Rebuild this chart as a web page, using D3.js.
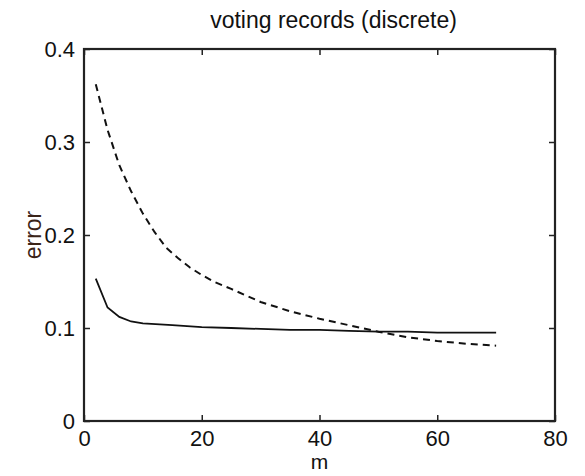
<!DOCTYPE html>
<html>
<head>
<meta charset="utf-8">
<script src="https://cdn.jsdelivr.net/npm/d3@7"></script>
<style>
  body { margin: 0; background: #fff; }
  text { font-family: "Liberation Sans", Arial, Helvetica, sans-serif; fill: #111; }
</style>
</head>
<body>
<svg id="chart" width="585" height="476"></svg>
<script>
// m values and errors
const mSolid   = [2, 4, 6, 8, 10, 15, 20, 25, 30, 35, 40, 45, 50, 55, 60, 65, 70];
const errSolid = [0.153, 0.122, 0.112, 0.107, 0.105, 0.103, 0.101, 0.100, 0.099, 0.098, 0.098, 0.097, 0.096, 0.096, 0.095, 0.095, 0.095];

const mDashed   = [2, 4, 6, 8, 10, 12, 14, 16, 18, 20, 22, 25, 30, 35, 40, 45, 50, 55, 60, 65, 70];
const errDashed = [0.362, 0.313, 0.275, 0.247, 0.223, 0.203, 0.186, 0.175, 0.165, 0.157, 0.150, 0.142, 0.128, 0.118, 0.110, 0.103, 0.096, 0.090, 0.086, 0.083, 0.081];

const xTicks = [0, 20, 40, 60, 80];
const yTicks = [0, 0.1, 0.2, 0.3, 0.4];

const svg = d3.select("#chart");
const L = 84, R = 555, T = 49, B = 421;

const X = d3.scaleLinear().domain([0, 80]).range([L, R]);
const Y = d3.scaleLinear().domain([0, 0.4]).range([B, T]);
const line = d3.line().x(d => X(d[0])).y(d => Y(d[1]));

const solid = d3.zip(mSolid, errSolid);
const dashed = d3.zip(mDashed, errDashed);

// data
svg.append("path").datum(dashed)
	.attr("d", line)
	.attr("fill", "none")
	.attr("stroke", "#111")
	.attr("stroke-width", 2)
	.attr("stroke-dasharray", "7,5");

svg.append("path").datum(solid)
	.attr("d", line)
	.attr("fill", "none")
	.attr("stroke", "#111")
	.attr("stroke-width", 1.8);

// axes with inward ticks on all four sides
const tk = 6;
svg.append("g").attr("transform", `translate(0,${B})`)
	.call(d3.axisBottom(X).tickValues(xTicks).tickSize(-tk).tickPadding(9).tickFormat(d3.format("d")));
svg.append("g").attr("transform", `translate(0,${T})`)
	.call(d3.axisTop(X).tickValues(xTicks).tickSize(-tk).tickFormat(""));
svg.append("g").attr("transform", `translate(${L},0)`)
	.call(d3.axisLeft(Y).tickValues(yTicks).tickSize(-tk).tickPadding(9).tickFormat(d => d === 0 ? "0" : d3.format(".1f")(d)));
svg.append("g").attr("transform", `translate(${R},0)`)
	.call(d3.axisRight(Y).tickValues(yTicks).tickSize(-tk).tickFormat(""));

svg.selectAll(".domain").remove();
svg.selectAll(".tick line").attr("stroke", "#222").attr("stroke-width", 1.5);
svg.selectAll(".tick text").attr("font-size", 22).attr("fill", "#111");

svg.append("rect")
	.attr("x", L).attr("y", T)
	.attr("width", R - L).attr("height", B - T)
	.attr("fill", "none")
	.attr("stroke", "#222")
	.attr("stroke-width", 2.2);

// labels
svg.append("text")
	.attr("x", (L + R) / 2 + 14).attr("y", 28)
	.attr("text-anchor", "middle")
	.attr("font-size", 23)
	.text("voting records (discrete)");

svg.append("text")
	.attr("x", (L + R) / 2).attr("y", 469)
	.attr("text-anchor", "middle")
	.attr("font-size", 21)
	.text("m");

svg.append("text")
	.attr("transform", `translate(41,${(T + B) / 2}) rotate(-90)`)
	.attr("text-anchor", "middle")
	.attr("font-size", 23)
	.style("fill", "#3a2418")
	.text("error");
</script>
</body>
</html>
